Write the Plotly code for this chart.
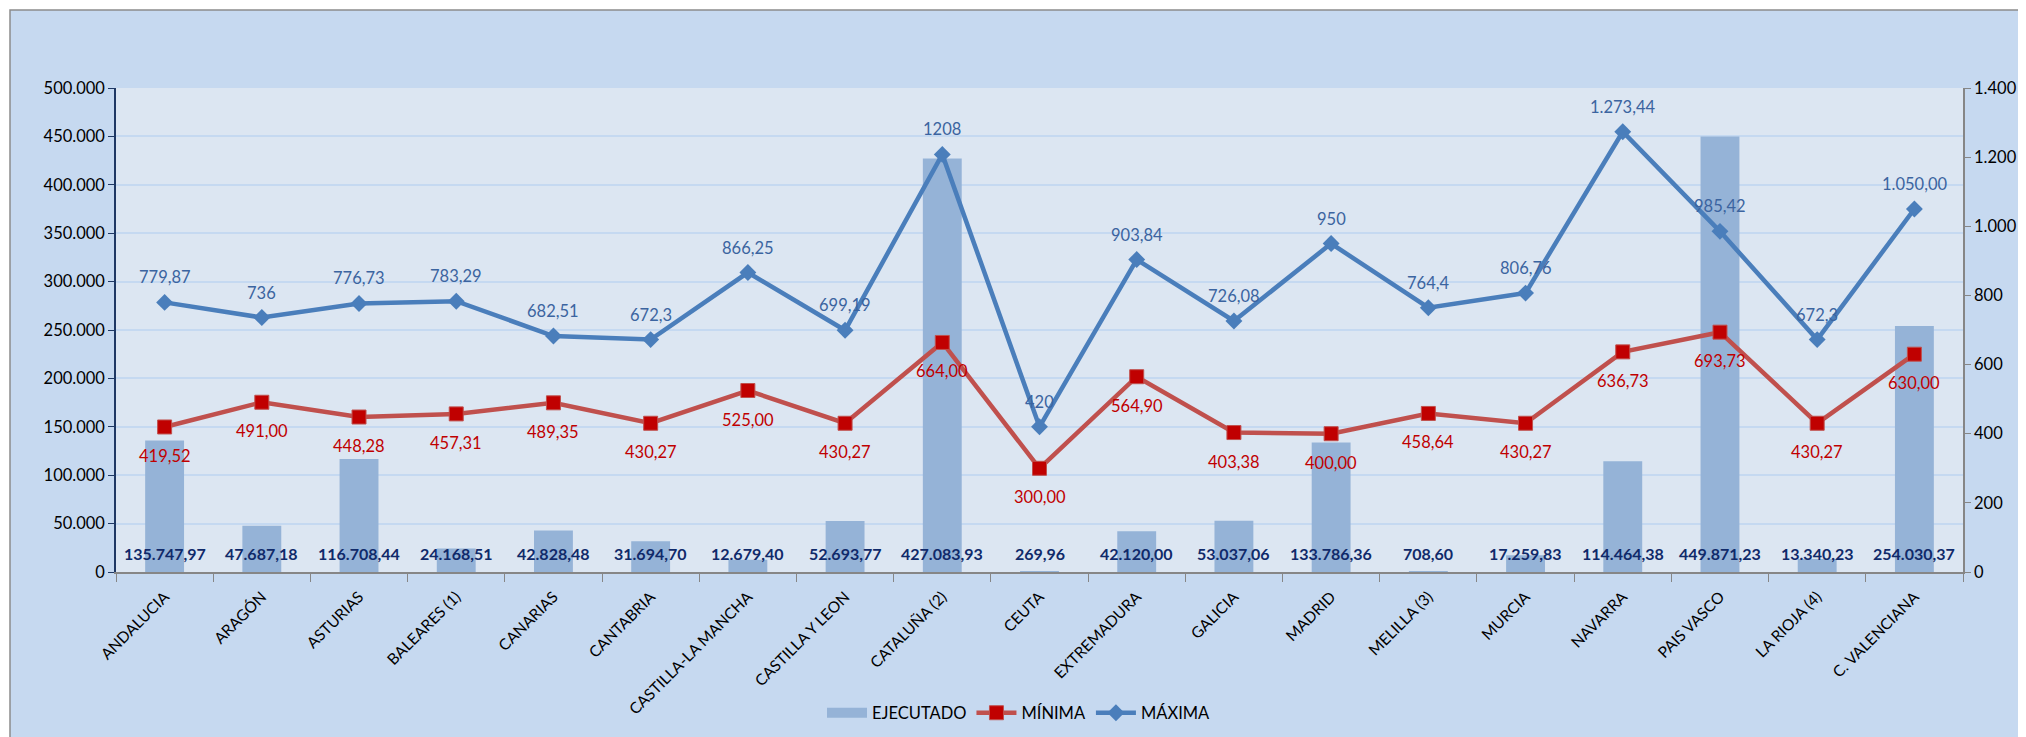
import plotly.graph_objects as go

categories = ["ANDALUCIA", "ARAGÓN", "ASTURIAS", "BALEARES (1)", "CANARIAS", "CANTABRIA",
              "CASTILLA-LA MANCHA", "CASTILLA Y LEON", "CATALUÑA (2)", "CEUTA", "EXTREMADURA",
              "GALICIA", "MADRID", "MELILLA (3)", "MURCIA", "NAVARRA", "PAIS VASCO",
              "LA RIOJA (4)", "C. VALENCIANA"]

ejecutado = [135747.97, 47687.18, 116708.44, 24168.51, 42828.48, 31694.70, 12679.40, 52693.77,
             427083.93, 269.96, 42120.00, 53037.06, 133786.36, 708.60, 17259.83, 114464.38,
             449871.23, 13340.23, 254030.37]
ejecutado_labels = ["135.747,97", "47.687,18", "116.708,44", "24.168,51", "42.828,48", "31.694,70",
                    "12.679,40", "52.693,77", "427.083,93", "269,96", "42.120,00", "53.037,06",
                    "133.786,36", "708,60", "17.259,83", "114.464,38", "449.871,23", "13.340,23",
                    "254.030,37"]

minima = [419.52, 491.00, 448.28, 457.31, 489.35, 430.27, 525.00, 430.27, 664.00, 300.00,
          564.90, 403.38, 400.00, 458.64, 430.27, 636.73, 693.73, 430.27, 630.00]
minima_labels = ["419,52", "491,00", "448,28", "457,31", "489,35", "430,27", "525,00", "430,27",
                 "664,00", "300,00", "564,90", "403,38", "400,00", "458,64", "430,27", "636,73",
                 "693,73", "430,27", "630,00"]

maxima = [779.87, 736, 776.73, 783.29, 682.51, 672.3, 866.25, 699.19, 1208, 420, 903.84,
          726.08, 950, 764.4, 806.76, 1273.44, 985.42, 672.3, 1050.00]
maxima_labels = ["779,87", "736", "776,73", "783,29", "682,51", "672,3", "866,25", "699,19",
                 "1208", "420", "903,84", "726,08", "950", "764,4", "806,76", "1.273,44",
                 "985,42", "672,3", "1.050,00"]

FONT = "Lato"
BAR_C = "#95B3D7"
MAX_C = "#4A7EBB"
MIN_LINE = "#C0504D"
MIN_MARK = "#C00000"

fig = go.Figure()
fig.add_trace(go.Bar(x=categories, y=ejecutado, name="EJECUTADO", marker_color=BAR_C,
                     marker_line_width=0, yaxis="y", showlegend=False))
# legend swatch for the bars (wide rectangle like the original)
fig.add_trace(go.Scatter(x=[None], y=[None], name="EJECUTADO", mode="lines",
                         line=dict(color=BAR_C, width=10), yaxis="y"))
fig.add_trace(go.Scatter(x=categories, y=minima, name="MÍNIMA", mode="lines+markers",
                         line=dict(color=MIN_LINE, width=4.5),
                         marker=dict(symbol="square", size=14, color=MIN_MARK,
                                     line=dict(color=MIN_LINE, width=1)),
                         yaxis="y2"))
fig.add_trace(go.Scatter(x=categories, y=maxima, name="MÁXIMA", mode="lines+markers",
                         line=dict(color=MAX_C, width=4.5),
                         marker=dict(symbol="diamond", size=13, color=MAX_C),
                         yaxis="y2"))

annotations = []
for c, t in zip(categories, ejecutado_labels):
    annotations.append(dict(x=c, y=0, xref="x", yref="y", text="<b>" + t + "</b>", showarrow=False,
                            yshift=19, font=dict(family=FONT, size=16, color="#102A6A")))
for c, v, t in zip(categories, minima, minima_labels):
    annotations.append(dict(x=c, y=v, xref="x", yref="y2", text=t, showarrow=False,
                            yshift=-29, font=dict(family=FONT, size=16.5, color=MIN_MARK)))
for c, v, t in zip(categories, maxima, maxima_labels):
    annotations.append(dict(x=c, y=v, xref="x", yref="y2", text=t, showarrow=False,
                            yshift=25, font=dict(family=FONT, size=16.5, color="#3B64A0")))

OFF = 8  # page body margin
W, H = 2026 - OFF, 737 - OFF
L = 116 - OFF
T = 88 - OFF
R = W - (1963 - OFF)
B = H - (572 - OFF)
pw = W - L - R
ph = H - T - B

def px_x(p):
    return (p - OFF - L) / pw

def px_y(p):
    return (H - B - (p - OFF)) / ph

shapes = [
    dict(type="rect", xref="paper", yref="paper", x0=px_x(10), x1=px_x(2040), y0=px_y(760), y1=px_y(10),
         fillcolor="#C6D9F0", line=dict(color="#8C8C8C", width=1.5), layer="below"),
    dict(type="rect", xref="paper", yref="paper", x0=0, x1=1, y0=0, y1=1,
         fillcolor="#DCE6F2", line=dict(width=0), layer="below"),
]

fig.update_layout(
    width=W, height=H,
    margin=dict(l=L, r=R, t=T, b=B, autoexpand=False),
    paper_bgcolor="white", plot_bgcolor="rgba(0,0,0,0)",
    separators=",.",
    font=dict(family=FONT, size=16.5, color="black"),
    bargap=0.6,
    showlegend=True,
    legend=dict(orientation="h", xref="container", yref="container",
                x=(1019 - OFF) / W, y=1 - (713 - OFF) / H,
                xanchor="center", yanchor="middle", bgcolor="rgba(0,0,0,0)",
                font=dict(family=FONT, size=16.5, color="black"), itemwidth=40),
    xaxis=dict(type="category", range=[-0.5, len(categories) - 0.5],
               tickson="boundaries", ticks="outside", ticklen=8, tickcolor="#868686",
               showline=True, linecolor="#868686", linewidth=1.5, tickangle=-45,
               ticklabelstandoff=8,
               tickfont=dict(family=FONT, size=15.5, color="black"), showgrid=False),
    yaxis=dict(range=[0, 500000], dtick=50000, tickformat=",d", ticks="outside", ticklen=6,
               tickcolor="#1F3864", showline=True, linecolor="#1F3864", linewidth=1.5,
               gridcolor="#C5D9F1", gridwidth=1.5, zeroline=False,
               tickfont=dict(family=FONT, size=16.5, color="black")),
    yaxis2=dict(range=[0, 1400], dtick=200, tickformat=",d", overlaying="y", side="right",
                ticks="outside", ticklen=6, tickcolor="#868686", showline=True, linecolor="#868686",
                linewidth=1.5, showgrid=False, zeroline=False,
                tickfont=dict(family=FONT, size=16.5, color="black")),
    annotations=annotations,
    shapes=shapes,
)

fig.write_html("out.html")
